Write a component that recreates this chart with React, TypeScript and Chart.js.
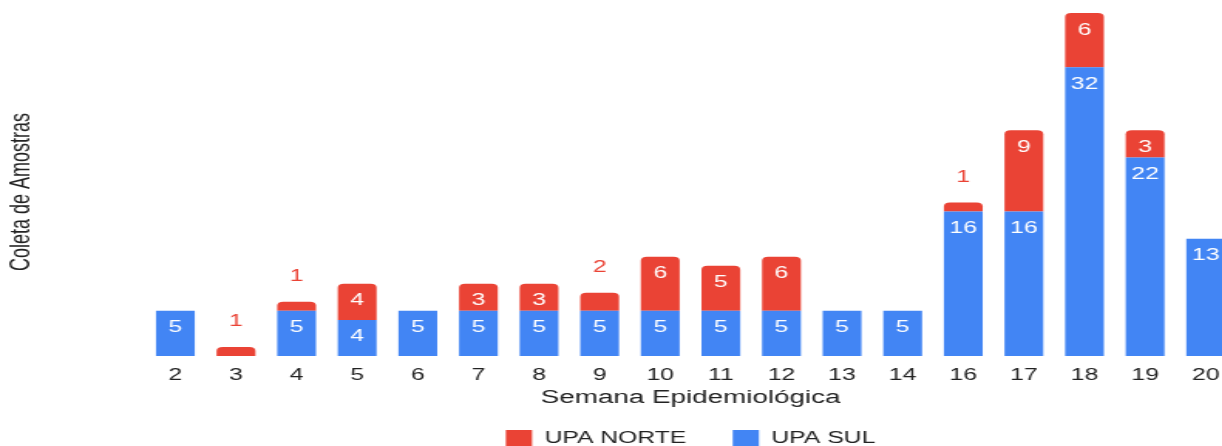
import React, { useEffect, useRef } from "react";
import { Chart, registerables } from "chart.js";

Chart.register(...registerables);

const weeks = ["2", "3", "4", "5", "6", "7", "8", "9", "10", "11", "12", "13", "14", "16", "17", "18", "19", "20"];
const upaSul = [5, 0, 5, 4, 5, 5, 5, 5, 5, 5, 5, 5, 5, 16, 16, 32, 22, 13];
const upaNorte = [0, 1, 1, 4, 0, 3, 3, 2, 6, 5, 6, 0, 0, 1, 9, 6, 3, 0];
const seriesSul = "UPA SUL";
const seriesNorte = "UPA NORTE";
const xTitle = "Semana Epidemiológica";
const yTitle = "Coleta de Amostras";

const RED = "#EA4335";
const BLUE = "#4285F4";
const FONT = "'Liberation Sans', Arial, sans-serif";

// internal drawing size, stretched horizontally by CSS like the reference
const INT_W = 800;
const INT_H = 457;
const CSS_W = 1236;

const labelPlugin = {
  id: "barLabels",
  afterDatasetsDraw(chart: any) {
    const ctx = chart.ctx;
    ctx.save();
    ctx.font = `16px ${FONT}`;
    ctx.textAlign = "center";
    ctx.textBaseline = "alphabetic";
    chart.data.datasets.forEach((ds: any, di: number) => {
      const meta = chart.getDatasetMeta(di);
      meta.data.forEach((bar: any, i: number) => {
        const v = ds.data[i];
        if (!v) return;
        const h = bar.base - bar.y;
        if (h >= 25) {
          ctx.fillStyle = "#ffffff";
          ctx.fillText(String(v), bar.x, bar.y + 21.5);
        } else {
          ctx.fillStyle = ds.backgroundColor;
          ctx.fillText(String(v), bar.x, bar.y - 21);
        }
      });
    });
    ctx.restore();
  },
};

const yTitlePlugin = {
  id: "yTitle",
  afterDraw(chart: any) {
    const ctx = chart.ctx;
    ctx.save();
    ctx.translate(14.5, 192);
    ctx.rotate(-Math.PI / 2);
    ctx.font = `18px ${FONT}`;
    ctx.fillStyle = "#222222";
    ctx.textAlign = "center";
    ctx.textBaseline = "middle";
    ctx.fillText(yTitle, 0, 0);
    ctx.restore();
  },
};

export default function App() {
  const ref = useRef<HTMLCanvasElement | null>(null);

  useEffect(() => {
    if (!ref.current) return;
    const chart = new Chart(ref.current, {
      type: "bar",
      data: {
        labels: weeks,
        datasets: [
          {
            label: seriesSul,
            data: upaSul,
            backgroundColor: BLUE,
            borderWidth: 0,
            borderRadius: 0,
            barPercentage: 0.64,
            categoryPercentage: 1,
          },
          {
            label: seriesNorte,
            data: upaNorte,
            backgroundColor: RED,
            borderWidth: 0,
            borderRadius: { topLeft: 4, topRight: 4, bottomLeft: 0, bottomRight: 0 },
            borderSkipped: "bottom",
            barPercentage: 0.64,
            categoryPercentage: 1,
          },
        ],
      },
      options: {
        animation: false,
        responsive: false,
        maintainAspectRatio: false,
        devicePixelRatio: 1,
        layout: { padding: { left: 93.9, top: 13, right: 0, bottom: 0 } },
        font: { family: FONT },
        plugins: {
          tooltip: { enabled: false },
          legend: {
            position: "bottom",
            reverse: true,
            labels: {
              boxWidth: 17,
              boxHeight: 17,
              padding: 30,
              color: "#222222",
              font: { family: FONT, size: 16 },
            },
          },
        },
        scales: {
          x: {
            stacked: true,
            grid: { display: false, drawTicks: false },
            border: { display: false },
            ticks: {
              color: "#222222",
              padding: 10,
              font: { family: FONT, size: 16, lineHeight: 1.2 },
              autoSkip: false,
              maxRotation: 0,
            },
            title: {
              display: true,
              text: xTitle,
              color: "#222222",
              font: { family: FONT, size: 18, lineHeight: 1.2 },
              padding: { top: -7.5, bottom: -9.3 },
            },
          },
          y: {
            stacked: true,
            display: false,
            min: 0,
            max: 38,
          },
        },
      },
      plugins: [labelPlugin, yTitlePlugin],
    });
    return () => chart.destroy();
  }, []);

  return (
    <div
      style={{
        position: "absolute",
        left: 0,
        top: 0,
        width: 1222,
        height: 446,
        overflow: "hidden",
        background: "#ffffff",
      }}
    >
      <canvas
        ref={ref}
        width={INT_W}
        height={INT_H}
        style={{ display: "block", width: `${CSS_W}px`, height: `${INT_H}px` }}
      />
    </div>
  );
}
